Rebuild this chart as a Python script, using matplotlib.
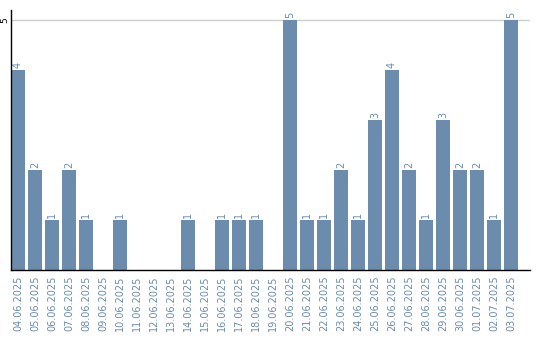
import matplotlib
matplotlib.use("Agg")
import matplotlib.pyplot as plt

dates = ["04.06.2025", "05.06.2025", "06.06.2025", "07.06.2025", "08.06.2025",
         "09.06.2025", "10.06.2025", "11.06.2025", "12.06.2025", "13.06.2025",
         "14.06.2025", "15.06.2025", "16.06.2025", "17.06.2025", "18.06.2025",
         "19.06.2025", "20.06.2025", "21.06.2025", "22.06.2025", "23.06.2025",
         "24.06.2025", "25.06.2025", "26.06.2025", "27.06.2025", "28.06.2025",
         "29.06.2025", "30.06.2025", "01.07.2025", "02.07.2025", "03.07.2025"]
counts = [4, 2, 1, 2, 1, 0, 1, 0, 0, 0,
          1, 0, 1, 1, 1, 0, 5, 1, 1, 2,
          1, 3, 4, 2, 1, 3, 2, 2, 1, 5]
y_ticks = [5]

bar_color = "#6b8cad"

fig = plt.figure(figsize=(5.4, 3.4), dpi=100)
ax = fig.add_axes([11 / 540, 1 - 270 / 340, 519 / 540, 260 / 340])

x = range(len(dates))
ax.bar(x, counts, width=0.82, color=bar_color, zorder=2)
for i, v in zip(x, counts):
    if v > 0:
        ax.text(i, v + 0.04, str(v), rotation=90, ha="center", va="bottom",
                fontsize=7, color=bar_color)

ax.set_xlim(-0.41, 30.12)
ax.set_ylim(0, 5.2)
ax.set_yticks(y_ticks)
ax.set_yticklabels([str(t) for t in y_ticks], rotation=90, va="center",
                   fontsize=6.5)
ax.tick_params(axis="y", length=0, pad=1)
ax.grid(axis="y", color="#cccccc", linewidth=1, zorder=0)

ax.set_xticks(list(x))
ax.set_xticklabels(dates, rotation=90, fontsize=7, color=bar_color)
ax.tick_params(axis="x", length=0, pad=4)

for side in ["top", "right"]:
    ax.spines[side].set_visible(False)
ax.spines["left"].set_linewidth(1)
ax.spines["bottom"].set_linewidth(1)

fig.savefig("out.png", dpi=100)
